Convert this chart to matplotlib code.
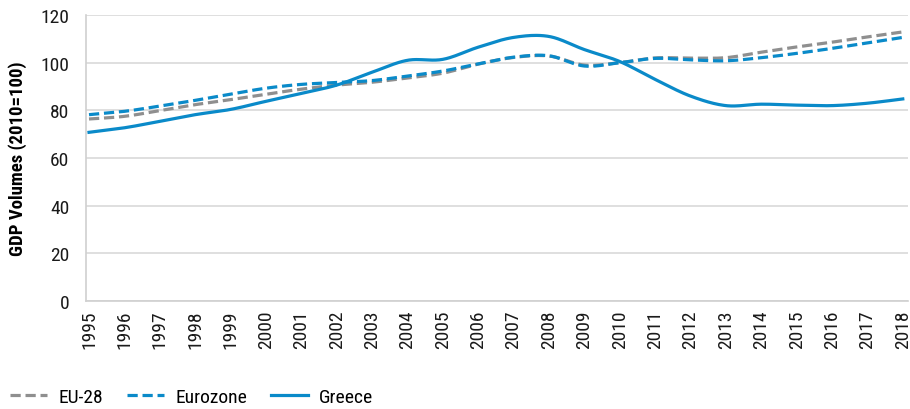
import numpy as np
import matplotlib
matplotlib.use("Agg")
from matplotlib import pyplot as plt
from matplotlib import font_manager

years = list(range(1995, 2019))

eu28 = [76.4, 77.5, 79.9, 82.4, 84.5, 86.8, 88.9, 90.6, 91.8, 93.6, 95.6,
        99.4, 102.2, 102.8, 99.0, 100.0, 102.0, 101.9, 102.1, 104.4, 106.6,
        108.6, 110.8, 112.9]
eurozone = [78.2, 79.6, 81.8, 84.2, 86.8, 89.3, 90.9, 91.7, 92.5, 94.4, 96.5,
            99.5, 102.3, 102.9, 98.6, 100.0, 101.8, 101.2, 100.8, 102.1, 103.9,
            106.0, 108.3, 110.6]
greece = [70.8, 72.7, 75.4, 78.2, 80.4, 83.8, 87.1, 90.6, 96.0, 101.0, 101.4,
          106.5, 110.6, 111.0, 105.5, 100.5, 93.0, 86.0, 82.0, 82.6, 82.2,
          82.0, 83.0, 84.8]

y_ticks = [0, 20, 40, 60, 80, 100, 120]

BLUE = "#0a8ac9"
GRAY = "#8f8f8f"


# pick a narrow font if we have one
def pick_font(names):
    have = {f.name for f in font_manager.fontManager.ttflist}
    for n in names:
        if n in have:
            return n
    return "DejaVu Sans"


FONT = pick_font(["Roboto Condensed", "Liberation Sans Narrow", "Liberation Sans"])
plt.rcParams["font.family"] = [FONT, "DejaVu Sans"]


# Excel style smoothed line (Catmull-Rom through the points)
def smooth(x, y, n=20):
    x = np.asarray(x, float)
    y = np.asarray(y, float)
    px = np.concatenate([[x[0]], x, [x[-1]]])
    py = np.concatenate([[y[0]], y, [y[-1]]])
    xs, ys = [], []
    t = np.linspace(0, 1, n, endpoint=False)
    for i in range(1, len(px) - 2):
        p0, p1, p2, p3 = px[i - 1], px[i], px[i + 1], px[i + 2]
        q0, q1, q2, q3 = py[i - 1], py[i], py[i + 1], py[i + 2]
        c1x, c1y = p1 + (p2 - p0) / 6, q1 + (q2 - q0) / 6
        c2x, c2y = p2 - (p3 - p1) / 6, q2 - (q3 - q1) / 6
        b = [(1 - t) ** 3, 3 * (1 - t) ** 2 * t, 3 * (1 - t) * t ** 2, t ** 3]
        xs.append(b[0] * p1 + b[1] * c1x + b[2] * c2x + b[3] * p2)
        ys.append(b[0] * q1 + b[1] * c1y + b[2] * c2y + b[3] * q2)
    xs.append([x[-1]])
    ys.append([y[-1]])
    return np.concatenate(xs), np.concatenate(ys)


fig = plt.figure(figsize=(9.1, 4.1), dpi=100)
ax = fig.add_axes([0.0945, 0.263, 0.903, 0.698])

lw = 2.3
sx, sy = smooth(years, eu28)
ax.plot(sx, sy, color=GRAY, lw=lw, dashes=(3.2, 1.5), label="EU-28")
sx, sy = smooth(years, eurozone)
ax.plot(sx, sy, color=BLUE, lw=lw, dashes=(3.2, 1.5), label="Eurozone")
sx, sy = smooth(years, greece)
ax.plot(sx, sy, color=BLUE, lw=lw, label="Greece")

ax.set_ylim(0, 120)
ax.set_xlim(1994.915, 2018.14)
ax.set_yticks(y_ticks)
ax.set_xticks(years)
ax.set_xticklabels([str(y) for y in years], rotation=90)
ax.tick_params(axis="both", length=0, labelsize=14, colors="#1a1a1a")
ax.tick_params(axis="x", pad=6)
ax.tick_params(axis="y", pad=12)
ax.grid(axis="y", color="#d9d9d9", lw=1.2)
ax.set_axisbelow(True)
for s in ["top", "right"]:
    ax.spines[s].set_visible(False)
ax.spines["left"].set_color("#d0d0d0")
ax.spines["bottom"].set_color("#d0d0d0")
ax.spines["left"].set_linewidth(1.2)
ax.spines["bottom"].set_linewidth(1.2)

ax.set_ylabel("GDP Volumes (2010=100)", fontsize=13.5, fontweight="bold", labelpad=10)

fig.legend(loc="lower left", bbox_to_anchor=(-0.008, -0.035), ncol=3, frameon=False,
           fontsize=14, handlelength=1.9, handletextpad=0.6, columnspacing=1.2)

fig.savefig("out.png", dpi=100)
